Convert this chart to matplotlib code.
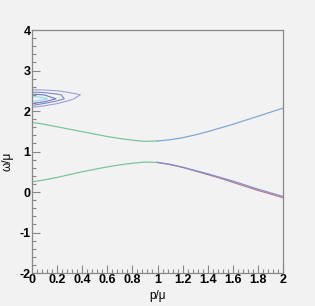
import numpy as np
import matplotlib
matplotlib.use('Agg')
from matplotlib import pyplot as plt
from matplotlib.ticker import MultipleLocator

# upper / lower branches
p = [0.0, 0.1, 0.2, 0.3, 0.4, 0.5, 0.6, 0.7, 0.8, 0.9, 1.0, 1.1, 1.2, 1.3, 1.4, 1.5, 1.6, 1.7, 1.8, 1.9, 2.0]
w_up = [1.72, 1.67, 1.61, 1.55, 1.49, 1.43, 1.37, 1.32, 1.28, 1.25, 1.26, 1.29, 1.34, 1.41, 1.49, 1.58, 1.67, 1.77, 1.87, 1.97, 2.07]
w_lo = [0.25, 0.30, 0.36, 0.43, 0.50, 0.56, 0.62, 0.67, 0.71, 0.74, 0.73, 0.68, 0.61, 0.53, 0.45, 0.36, 0.27, 0.17, 0.07, -0.02, -0.11]
w_lo2 = [0.25, 0.30, 0.36, 0.43, 0.50, 0.56, 0.62, 0.67, 0.71, 0.74, 0.73, 0.68, 0.61, 0.52, 0.43, 0.34, 0.24, 0.14, 0.04, -0.05, -0.14]

# contour blob near p=0, omega~2.3
cp = [0.0, 0.1, 0.2, 0.3, 0.4, 0.5]
cw = [2.0, 2.1, 2.2, 2.3, 2.4, 2.5, 2.6]
cz = [[0.0, 0.0, 0.0, 0.0, 0.0, 0.0],
      [1.2, 0.5, 0.1, 0.0, 0.0, 0.0],
      [3.4, 2.2, 1.2, 0.3, 0.0, 0.0],
      [6.5, 5.0, 2.8, 1.4, 0.2, 0.0],
      [3.4, 2.9, 2.2, 1.6, 0.9, 0.0],
      [1.4, 1.2, 1.0, 0.5, 0.1, 0.0],
      [0.0, 0.0, 0.0, 0.0, 0.0, 0.0]]
levels = [1.0, 2.0, 3.0, 4.5]
lcols = ['#9aa0d8', '#7f86c8', '#6f78c0', '#8fd8e8']

bg = '#f2f2f2'
plt.rcParams['font.family'] = 'Liberation Sans'
fig = plt.figure(figsize=(3.15, 3.06), dpi=100, facecolor=bg)
ax = fig.add_axes([32/315, 1-273/306, 251/315, 243/306], facecolor=bg)

ax.contour(cp, cw, cz, levels=levels, colors=lcols, linewidths=0.8)

n = 10
ax.plot(p[:n+1], w_up[:n+1], color='#7cc4a0', lw=0.9)
ax.plot(p[n:], w_up[n:], color='#80a8d4', lw=0.9)
ax.plot(p[:n+1], w_lo[:n+1], color='#7cc4a0', lw=0.9)
ax.plot(p[n:], w_lo2[n:], color='#c07888', lw=0.9)
ax.plot(p[n:], w_lo[n:], color='#7f90c8', lw=0.9)

ax.set_xlim(0, 2)
ax.set_ylim(-2, 4)
ax.xaxis.set_major_locator(MultipleLocator(0.2))
ax.xaxis.set_minor_locator(MultipleLocator(0.04))
ax.yaxis.set_major_locator(MultipleLocator(1))
ax.yaxis.set_minor_locator(MultipleLocator(0.2))
ax.xaxis.set_major_formatter(plt.FuncFormatter(lambda v, _: '%g' % round(v, 1)))
ax.yaxis.set_major_formatter(plt.FuncFormatter(lambda v, _: '%g' % round(v, 1)))
ax.tick_params(which='both', direction='in', color='#888888', width=0.8,
               top=False, right=False, labelsize=9, pad=1)
ax.tick_params(which='major', length=6)
ax.tick_params(which='minor', length=3)
for lab in ax.get_xticklabels() + ax.get_yticklabels():
    lab.set_fontweight('bold')
for s in ax.spines.values():
    s.set_color('#888888')
    s.set_linewidth(0.9)

ax.set_xlabel('p/\u03bc', fontsize=8.5)
ax.set_ylabel('\u03c9/\u03bc', fontsize=8.5)
ax.xaxis.set_label_coords(0.5, -0.07)
ax.yaxis.set_label_coords(-0.075, 0.46)

fig.savefig('out.png', dpi=100, facecolor=bg)
